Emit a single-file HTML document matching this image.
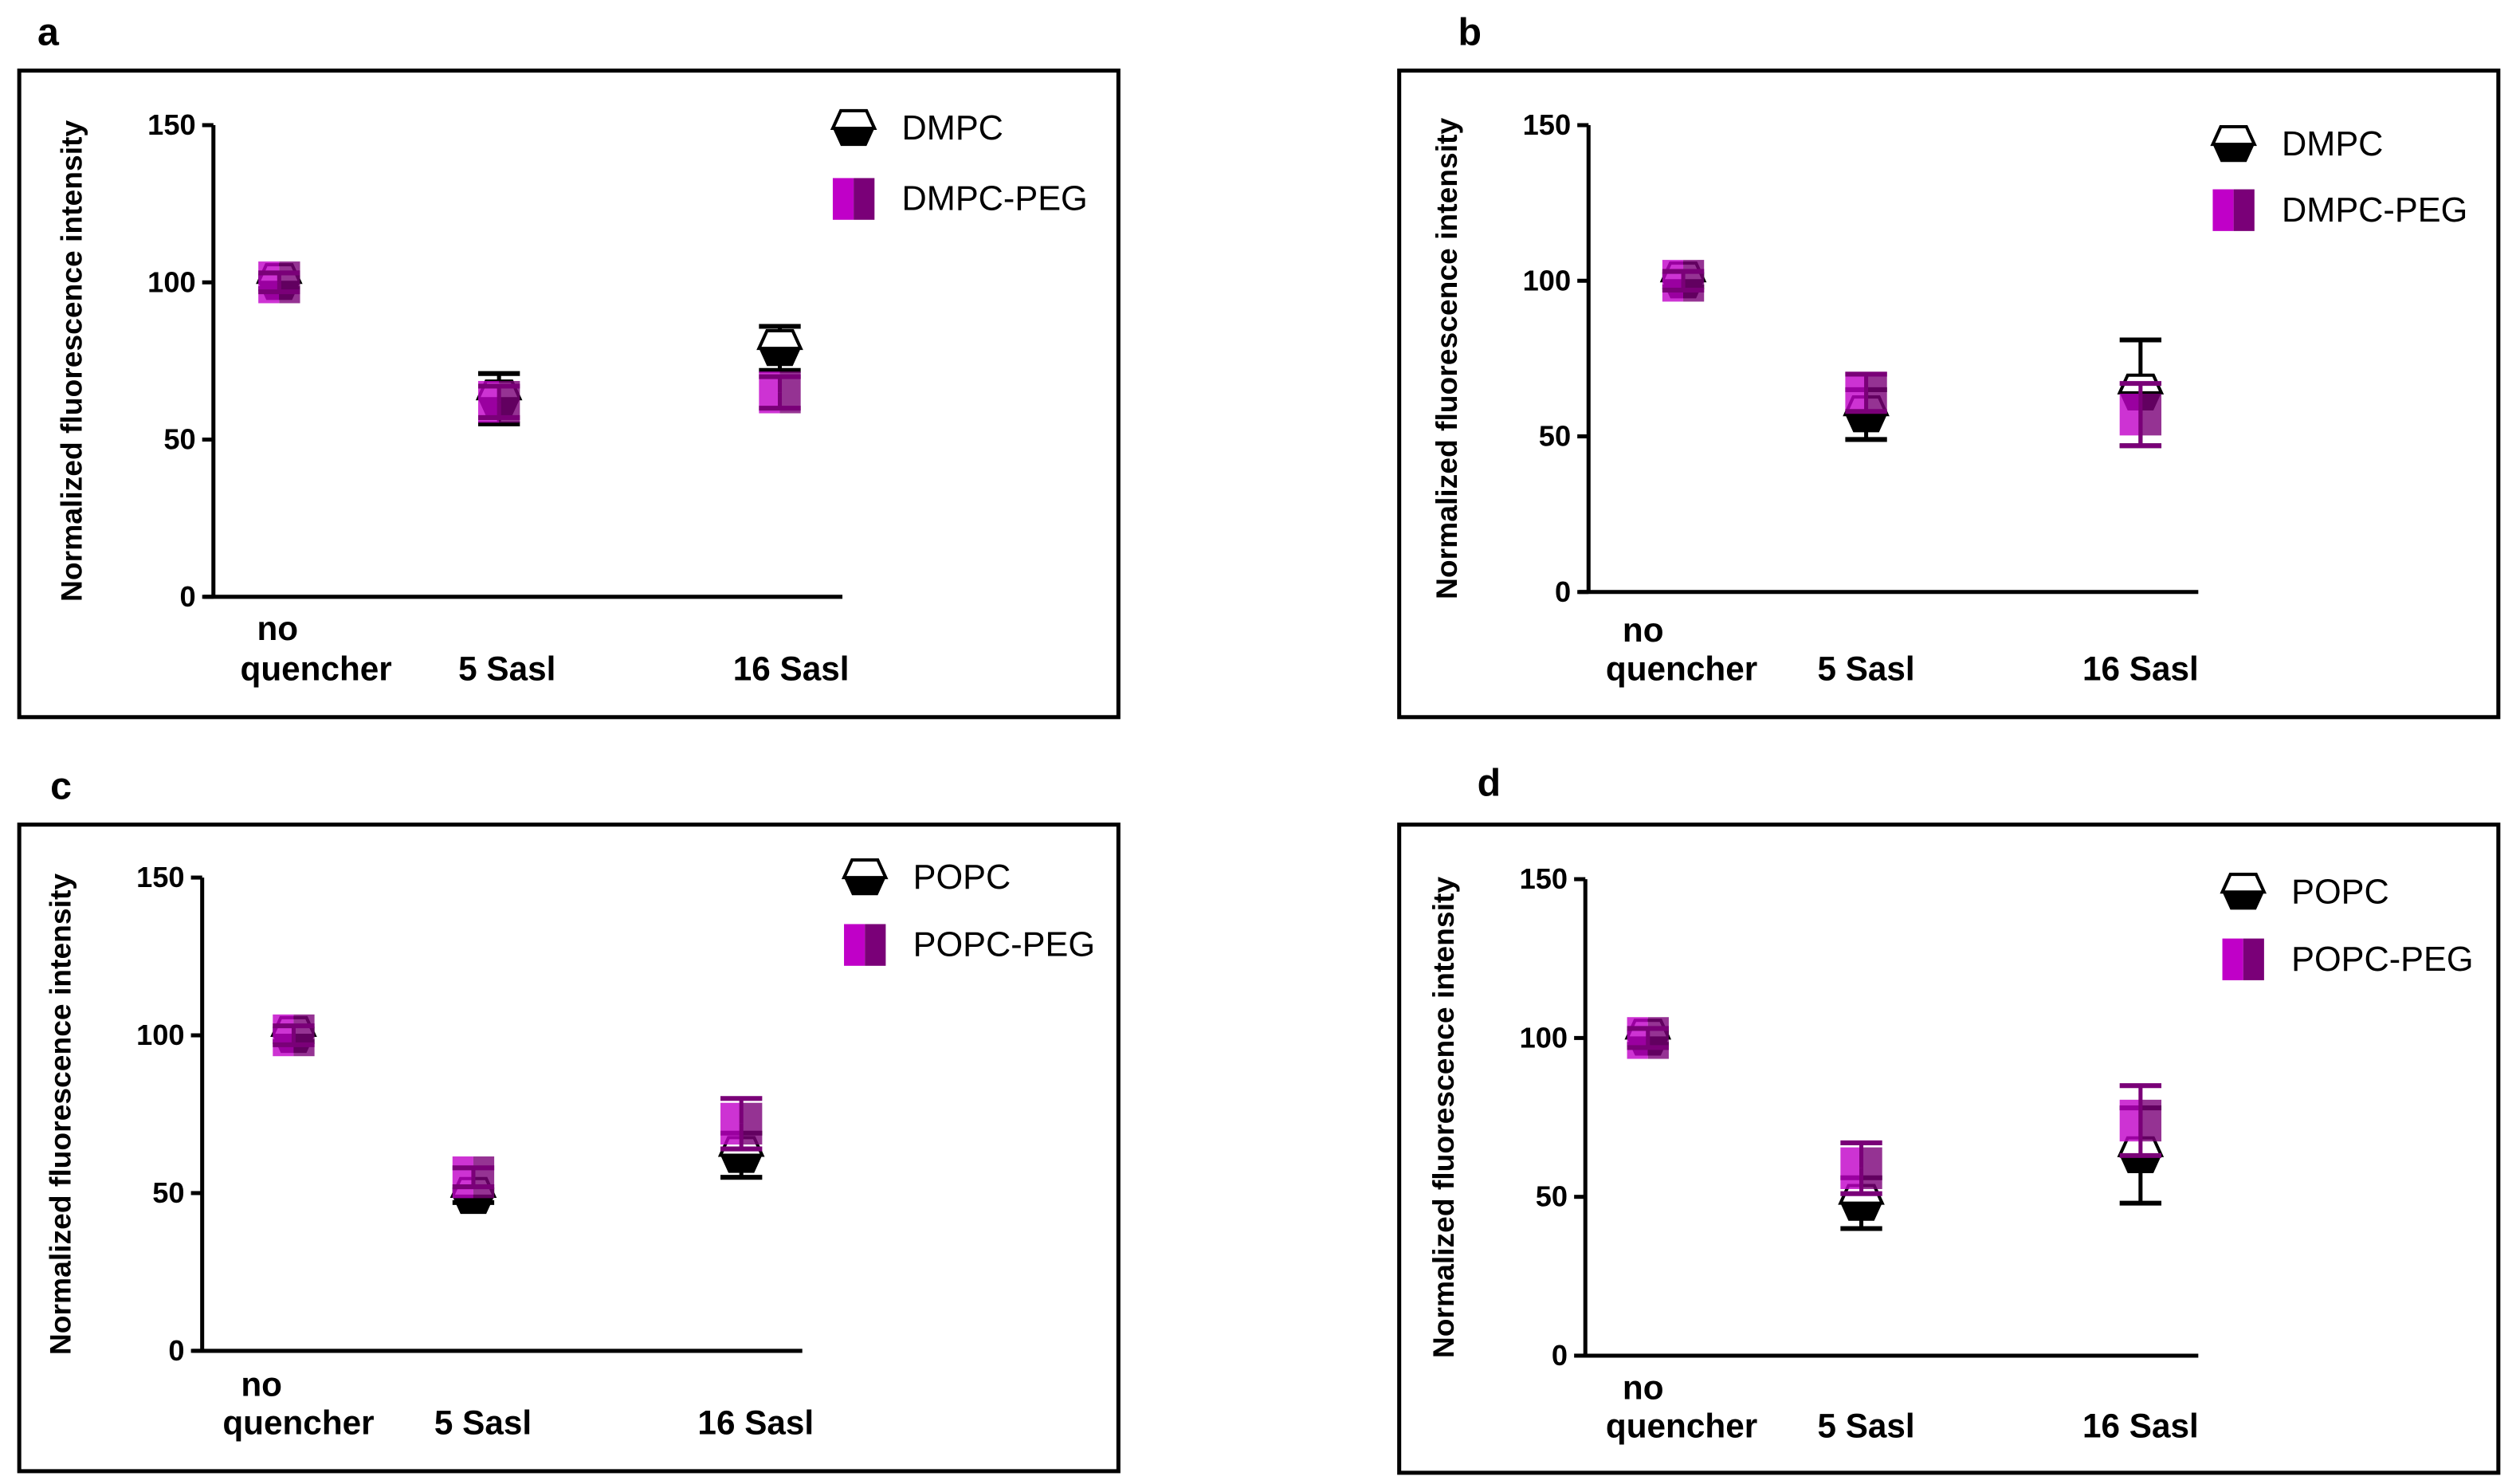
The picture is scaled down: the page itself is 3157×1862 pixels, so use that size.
<!DOCTYPE html>
<html><head><meta charset="utf-8"><style>
html,body{margin:0;padding:0;background:#fff}
svg{display:block}
text{font-family:"Liberation Sans",Arial,sans-serif}
</style></head><body>
<svg id="fig" width="3157" height="1862" viewBox="0 0 1568 925" preserveAspectRatio="none" xmlns="http://www.w3.org/2000/svg"></svg>
<script>
const categories = ["no quencher", "5 Sasl", "16 Sasl"];
const yTicks = [0, 50, 100, 150];
// panel a
const aLipid = [100, 63, 79];
const aLipidErr = [2, 8, 7];
const aPeg = [100, 62, 65];
const aPegErr = [3, 5, 5];
// panel b
const bLipid = [100, 57, 64];
const bLipidErr = [2, 8, 17];
const bPeg = [100, 64, 57];
const bPegErr = [3, 6, 10];
// panel c
const cLipid = [100, 49, 62];
const cLipidErr = [2, 2, 7];
const cPeg = [100, 55, 72];
const cPegErr = [3, 3, 8];
// panel d
const dLipid = [100, 48, 63];
const dLipidErr = [2, 8, 15];
const dPeg = [100, 59, 74];
const dPegErr = [3, 8, 11];

const NS = "http://www.w3.org/2000/svg";
const svg = document.getElementById("fig");
function el(tag, attrs, parent) {
  const e = document.createElementNS(NS, tag);
  for (const k in attrs) e.setAttribute(k, attrs[k]);
  (parent || svg).appendChild(e);
  return e;
}
const panels = [
  {id:"a", letter:[30,28], box:[12,44,685,403], ax:133, y0:372, y150:78, xEnd:525, cx:[174,311,486],
   lab:[[173,399,"no"],[197,424,"quencher"],[316,424,"5 Sasl"],[493,424,"16 Sasl"]],
   leg:[532,80,124], names:["DMPC","DMPC-PEG"], lipid:aLipid, lipidErr:aLipidErr, peg:aPeg, pegErr:aPegErr},
  {id:"b", letter:[916,28], box:[872,44,685,403], ax:990, y0:369, y150:78, xEnd:1370, cx:[1049,1163,1334],
   lab:[[1024,400,"no"],[1048,424,"quencher"],[1163,424,"5 Sasl"],[1334,424,"16 Sasl"]],
   leg:[1392,90,131], names:["DMPC","DMPC-PEG"], lipid:bLipid, lipidErr:bLipidErr, peg:bPeg, pegErr:bPegErr},
  {id:"c", letter:[38,498], box:[12,514,685,403], ax:126, y0:842, y150:547, xEnd:500, cx:[183,295,462],
   lab:[[163,870,"no"],[186,894,"quencher"],[301,894,"5 Sasl"],[471,894,"16 Sasl"]],
   leg:[539,547,589], names:["POPC","POPC-PEG"], lipid:cLipid, lipidErr:cLipidErr, peg:cPeg, pegErr:cPegErr},
  {id:"d", letter:[928,496], box:[872,514,685,404], ax:988, y0:845, y150:548, xEnd:1370, cx:[1027,1160,1334],
   lab:[[1024,872,"no"],[1048,896,"quencher"],[1163,896,"5 Sasl"],[1334,896,"16 Sasl"]],
   leg:[1398,556,598], names:["POPC","POPC-PEG"], lipid:dLipid, lipidErr:dLipidErr, peg:dPeg, pegErr:dPegErr}
];
function hexMarker(g, x, y) {
  const w = 13, h = 11;
  el("path", {d:`M${x-w} ${y} L${x-w+5} ${y+h} L${x+w-5} ${y+h} L${x+w} ${y} Z`, fill:"#000"}, g);
  el("path", {d:`M${x-w} ${y} L${x-w+5} ${y-h} L${x+w-5} ${y-h} L${x+w} ${y} Z`, fill:"#fff", stroke:"#000", "stroke-width":2}, g);
}
function sqMarker(g, x, y, op) {
  el("rect", {x:x-13, y:y-13, width:13, height:26, fill:"#c000c8", opacity:op}, g);
  el("rect", {x:x, y:y-13, width:13, height:26, fill:"#7a0078", opacity:op}, g);
}
function errBar(g, x, yv, ye, color) {
  el("line", {x1:x, y1:yv, x2:x, y2:ye, stroke:color, "stroke-width":2.5}, g);
  el("line", {x1:x-13, y1:ye, x2:x+13, y2:ye, stroke:color, "stroke-width":3}, g);
}
panels.forEach(p => {
  const g = el("g", {});
  
  
  const ys = v => p.y0 - (v / 150) * (p.y0 - p.y150);
  const L = el("text", {x:p.letter[0], y:p.letter[1], "font-size":24, "font-weight":"bold", "text-anchor":"middle"}, g);
  L.textContent = p.id;
  
  
  const b = el("rect", {x:p.box[0], y:p.box[1], width:p.box[2], height:p.box[3], fill:"none", stroke:"#000", "stroke-width":2.5}, g);
  
  
  const ya = el("line", {x1:p.ax, y1:p.y150, x2:p.ax, y2:p.y0, stroke:"#000", "stroke-width":2.5}, g);
  
  
  const xa = el("line", {x1:p.ax-6, y1:p.y0, x2:p.xEnd, y2:p.y0, stroke:"#000", "stroke-width":2.5}, g);
  
  
  yTicks.forEach(t => {
    el("line", {x1:p.ax-7, y1:ys(t), x2:p.ax, y2:ys(t), stroke:"#000", "stroke-width":2.5}, g);
    const tt = el("text", {x:p.ax-11, y:ys(t)+6, "font-size":18, "font-weight":"bold", "text-anchor":"end"}, g);
    tt.textContent = t;
    
    
  });
  const ymid = (p.y0 + p.y150) / 2;
  const yt = el("text", {x:0, y:0, "font-size":18.5, "font-weight":"bold", "text-anchor":"middle", transform:`translate(${p.ax-82},${ymid}) rotate(-90)`}, g);
  yt.textContent = "Normalized fluorescence intensity";
  
  
  p.lab.forEach(l => {
    const t = el("text", {x:l[0], y:l[1], "font-size":21, "font-weight":"bold", "text-anchor":"middle"}, g);
    t.textContent = l[2];
    
    
  });
  categories.forEach((c, i) => {
    const x = p.cx[i];
    const m = el("g", {}, g);
    
    
    const yv = ys(p.lipid[i]);
    errBar(m, x, yv, ys(p.lipid[i] + p.lipidErr[i]), "#000");
    errBar(m, x, yv, ys(p.lipid[i] - p.lipidErr[i]), "#000");
    hexMarker(m, x, yv);
    const q = el("g", {}, g);
    
    
    const yp = ys(p.peg[i]);
    sqMarker(q, x, yp, 0.8);
    errBar(q, x, yp, ys(p.peg[i] + p.pegErr[i]), "#7a0078");
    errBar(q, x, yp, ys(p.peg[i] - p.pegErr[i]), "#7a0078");
  });
  const lg1 = el("g", {}, g);
  
  
  hexMarker(lg1, p.leg[0], p.leg[1]);
  const t1 = el("text", {x:p.leg[0]+30, y:p.leg[1]+7, "font-size":21.5}, lg1);
  t1.textContent = p.names[0];
  const lg2 = el("g", {}, g);
  
  
  sqMarker(lg2, p.leg[0], p.leg[2], 1);
  const t2 = el("text", {x:p.leg[0]+30, y:p.leg[2]+7, "font-size":21.5}, lg2);
  t2.textContent = p.names[1];
});
</script>
</body></html>
